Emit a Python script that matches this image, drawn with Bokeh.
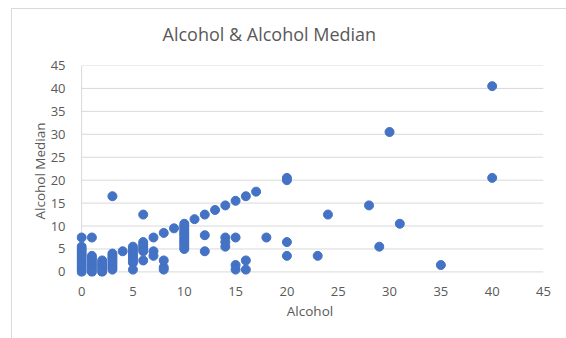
from bokeh.plotting import figure
from bokeh.models import Range1d, InlineStyleSheet
from bokeh.embed import file_html
from bokeh.resources import INLINE

# Alcohol value for each record, and the matching median value
alcohol = (
    [0] * 13 + [1] * 9 + [2] * 6 + [3] * 9 + [4] + [5] * 9 + [6] * 7 + [7] * 3
    + [8] * 4 + [9] + [10] * 12 + [11] + [12] * 3 + [13] + [14] * 4 + [15] * 4
    + [16] * 3 + [17] + [18] + [20] * 4 + [23] + [24] + [28] + [29] + [30]
    + [31] + [35] + [40] * 2
)
alcohol_median = (
    [7.5, 5.5, 5, 4.5, 4, 3.5, 3, 2.5, 2, 1.5, 1, 0.5, 0]          # 0
    + [7.5, 3.5, 3, 2.5, 2, 1.5, 1, 0.5, 0]                         # 1
    + [2.5, 2, 1.5, 1, 0.5, 0]                                      # 2
    + [16.5, 4, 3.5, 3, 2.5, 2, 1.5, 1, 0.5]                        # 3
    + [4.5]                                                         # 4
    + [5.5, 5, 4.5, 4, 3.5, 3, 2.5, 2, 0.5]                         # 5
    + [12.5, 6.5, 6, 5.5, 5, 4.5, 2.5]                              # 6
    + [7.5, 4.5, 3.5]                                               # 7
    + [8.5, 2.5, 1, 0.5]                                            # 8
    + [9.5]                                                         # 9
    + [10.5, 10, 9.5, 9, 8.5, 8, 7.5, 7, 6.5, 6, 5.5, 5]            # 10
    + [11.5]                                                        # 11
    + [12.5, 8, 4.5]                                                # 12
    + [13.5]                                                        # 13
    + [14.5, 7.5, 6.5, 5.5]                                         # 14
    + [15.5, 7.5, 1.5, 0.5]                                         # 15
    + [16.5, 2.5, 0.5]                                              # 16
    + [17.5]                                                        # 17
    + [7.5]                                                         # 18
    + [20.5, 20, 6.5, 3.5]                                          # 20
    + [3.5] + [12.5] + [14.5] + [5.5] + [30.5] + [10.5] + [1.5]     # 23..35
    + [40.5, 20.5]                                                  # 40
)

x_ticks = [0, 5, 10, 15, 20, 25, 30, 35, 40, 45]
y_ticks = [0, 5, 10, 15, 20, 25, 30, 35, 40, 45]

TEXT = "#595959"
GRID = "#d9d9d9"
FONT = "Open Sans"

# the frame reaches a little past 0 on both axes so that markers on the
# axes are not cut off; gridlines are drawn only over the 0..45 span
p = figure(
    width=566, height=338,
    output_backend="svg", toolbar_location=None,
    x_range=Range1d(-0.5, 45), y_range=Range1d(-1, 45),
    min_border_left=76, min_border_right=23,
    min_border_top=64, min_border_bottom=62,
    background_fill_color="white", border_fill_color="white",
)

p.title.text = "Alcohol & Alcohol Median"
p.title.align = "left"
p.title.offset = 86
p.title.standoff = 39
p.title.text_font = FONT
p.title.text_font_size = "18px"
p.title.text_font_style = "normal"
p.title.text_color = TEXT

# horizontal gridlines at each y tick, across the x extent
p.segment(x0=[x_ticks[0]] * len(y_ticks), x1=[x_ticks[-1]] * len(y_ticks),
          y0=y_ticks, y1=y_ticks, line_color=GRID, line_width=1,
          level="underlay")
# vertical axis line at x = 0
p.segment(x0=[x_ticks[0]], x1=[x_ticks[0]], y0=[y_ticks[0]], y1=[y_ticks[-1]],
          line_color=GRID, line_width=1, level="underlay")

p.scatter(alcohol, alcohol_median, size=9,
          fill_color="#4472C4", line_color="#4472C4")

for ax, ticks in ((p.xaxis, x_ticks), (p.yaxis, y_ticks)):
    ax.ticker = ticks
    ax.axis_line_color = None
    ax.major_tick_line_color = None
    ax.minor_tick_line_color = None
    ax.major_label_text_font = FONT
    ax.major_label_text_font_size = "13px"
    ax.major_label_text_color = TEXT
    ax.axis_label_text_font = FONT
    ax.axis_label_text_font_size = "13.5px"
    ax.axis_label_text_font_style = "normal"
    ax.axis_label_text_color = TEXT

p.xaxis.axis_label = "Alcohol"
p.yaxis.axis_label = "Alcohol Median"
p.xaxis.major_label_standoff = 4
p.yaxis.major_label_standoff = 5
p.xaxis.axis_label_standoff = 3
p.yaxis.axis_label_standoff = -1

p.xgrid.grid_line_color = None
p.ygrid.grid_line_color = None
p.outline_line_color = None

# thin frame around the chart area
p.stylesheets = [InlineStyleSheet(css=(
    ":host::after{content:'';position:absolute;left:11px;top:8px;right:0;bottom:0;"
    "border-left:1px solid #d9d9d9;border-top:1px solid #d9d9d9;pointer-events:none;}"
))]

open("out.html", "w").write(file_html(p, INLINE))
